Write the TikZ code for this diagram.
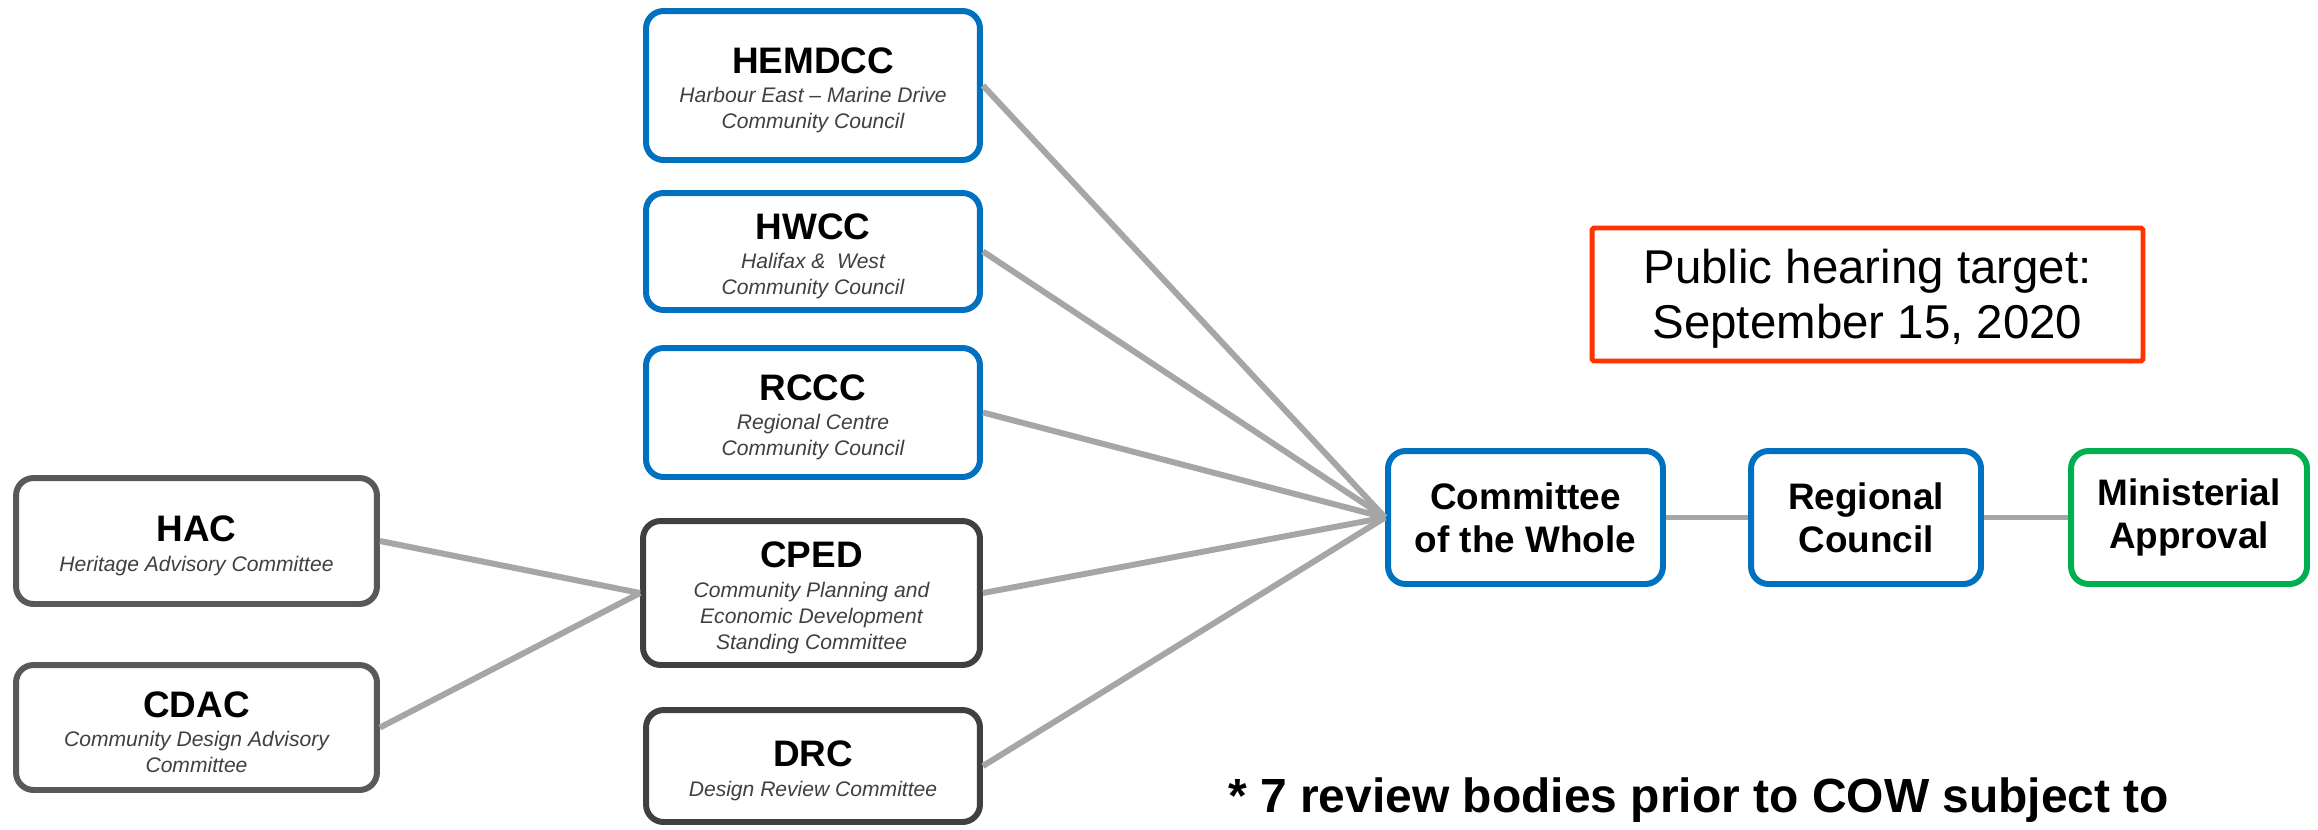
\documentclass[tikz,border=0pt]{standalone}
\usepackage{fontspec}
\setmainfont{Liberation Sans}
\usepackage{tikz}
\usetikzlibrary{positioning}
\usepackage{xcolor}
\definecolor{councilBlue}{RGB}{0,112,192}
\definecolor{standGray}{RGB}{64,64,64}
\definecolor{advGray}{RGB}{89,89,89}
\definecolor{approveGreen}{RGB}{0,176,80}
\definecolor{targetRed}{RGB}{255,51,0}
\definecolor{linkGray}{RGB}{166,166,166}
\definecolor{subText}{RGB}{64,64,64}
\newcommand{\bodyname}[1]{{\fontsize{21}{25}\selectfont\bfseries\upshape\color{black}\rule{0pt}{20pt}#1}}
\tikzset{
    every node/.append style={align=center},
    body/.style={rectangle,draw,line width=3.4pt,rounded corners=0.35cm,fill=white,
        inner sep=2pt,font=\fontsize{12}{14.8}\selectfont\itshape,text=subText},
    council/.style={body,draw=councilBlue},
    standing/.style={body,draw=standGray},
    advisory/.style={body,draw=advGray},
    stage/.style={body,text=black,font=\fontsize{21}{24.5}\selectfont\bfseries,
        minimum height=2.66cm},
    target/.style={rectangle,draw=targetRed,line width=2.8pt,rounded corners=1pt,
        minimum width=11.02cm,minimum height=2.66cm,font=\fontsize{27}{31.3}\selectfont},
    link/.style={draw=linkGray,line width=3.4pt}
}

\begin{document}
\begin{tikzpicture}[x=0.02cm,y=-0.02cm]
    \useasboundingbox (0,0) rectangle (2318,829);
    % community councils and committees
    \node[council,minimum width=6.68cm,minimum height=2.98cm] (hemdcc) at (813,85.5)
        {\bodyname{HEMDCC}\\[2pt]Harbour East -- Marine Drive\\Community Council};
    \node[council,minimum width=6.68cm,minimum height=2.34cm] (hwcc) at (813,251.5)
        {\bodyname{HWCC}\\[2pt]Halifax \&\ \ West\\Community Council};
    \node[council,minimum width=6.68cm,minimum height=2.58cm] (rccc) at (813,412.5)
        {\bodyname{RCCC}\\[2pt]Regional Centre\\Community Council};
    \node[standing,minimum width=6.74cm,minimum height=2.88cm] (cped) at (811.5,593)
        {\bodyname{CPED}\\[2pt]Community Planning and\\Economic Development\\Standing Committee};
    \node[standing,minimum width=6.68cm,minimum height=2.24cm] (drc) at (813,766)
        {\bodyname{DRC}\\[2pt]Design Review Committee};
    % advisory committees
    \node[advisory,minimum width=7.22cm,minimum height=2.52cm] (hac) at (196.5,541)
        {\bodyname{HAC}\\[2pt]Heritage Advisory Committee};
    \node[advisory,minimum width=7.22cm,minimum height=2.50cm] (cdac) at (196.5,727.5)
        {\bodyname{CDAC}\\[2pt]Community Design Advisory\\Committee};
    % approval stages
    \node[stage,draw=councilBlue,minimum width=5.5cm] (cow) at (1525.5,517.5)
        {Committee\\of the Whole};
    \node[stage,draw=councilBlue,minimum width=4.6cm] (regc) at (1866,517.5)
        {Regional\\Council};
    \node[stage,draw=approveGreen,minimum width=4.72cm] (minap) at (2189,517.5)
        {Ministerial\\Approval};
    \node[target] (hearing) at (1867.5,294.5)
        {\rule{0pt}{24pt}Public hearing target:\\September 15, 2020};
    \node[anchor=base west,font=\fontsize{27.3}{30}\selectfont\bfseries,inner sep=0]
        (note) at (1228,812) {* 7 review bodies prior to COW subject to};

    \draw[link] (hac.east) -- (cped.west);
    \draw[link] (cdac.east) -- (cped.west);
    \foreach \src in {hemdcc,hwcc,rccc,cped,drc}
        \draw[link] (\src.east) -- (cow.west);
    \draw[link] (cow) -- (regc);
    \draw[link] (regc) -- (minap);
\end{tikzpicture}
\end{document}
